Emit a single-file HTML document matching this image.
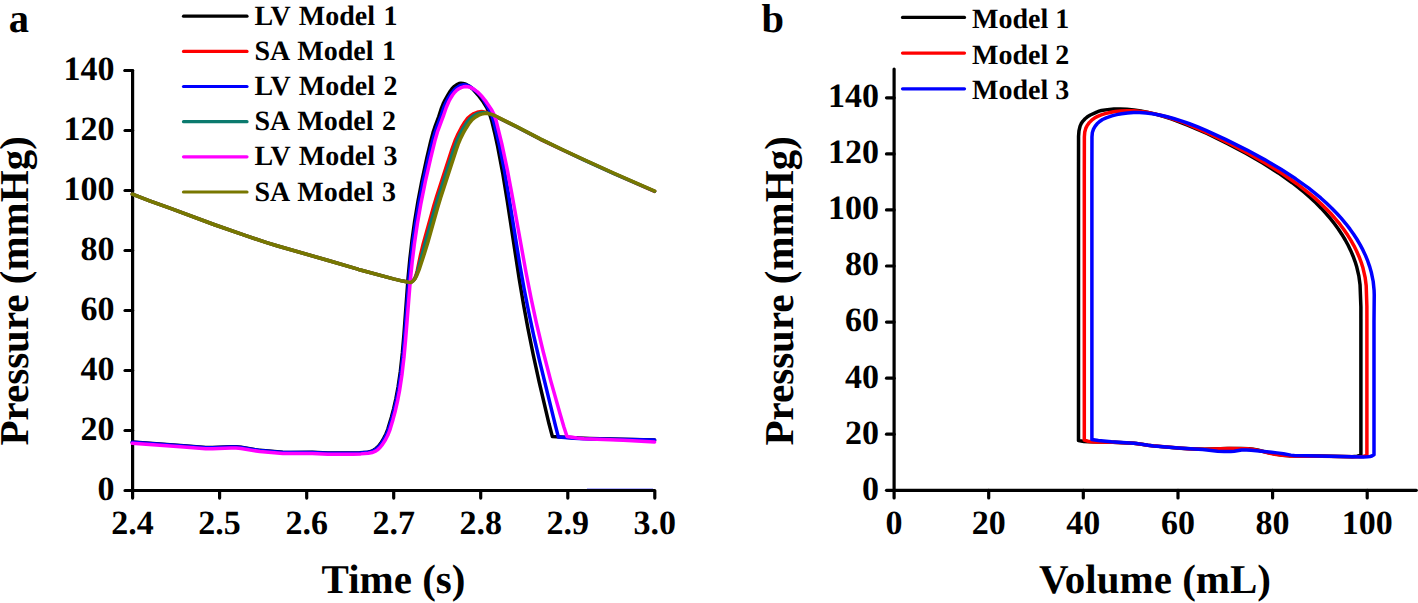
<!DOCTYPE html>
<html><head><meta charset="utf-8"><title>Pressure plots</title>
<style>html,body{margin:0;padding:0;background:#fff;width:1418px;height:603px;overflow:hidden}
svg{display:block}</style></head><body>
<svg width="1418" height="603" viewBox="0 0 1418 603">
<rect width="1418" height="603" fill="#fff"/>
<g stroke="#000" stroke-width="3.2" stroke-linecap="round" stroke-linejoin="round"><line x1="125.0" y1="430.5" x2="132.6" y2="430.5"/>
<line x1="125.0" y1="370.5" x2="132.6" y2="370.5"/>
<line x1="125.0" y1="310.5" x2="132.6" y2="310.5"/>
<line x1="125.0" y1="250.5" x2="132.6" y2="250.5"/>
<line x1="125.0" y1="190.5" x2="132.6" y2="190.5"/>
<line x1="125.0" y1="130.5" x2="132.6" y2="130.5"/>
<line x1="125.0" y1="70.5" x2="132.6" y2="70.5"/>
<line x1="219.6" y1="490.5" x2="219.6" y2="498.1"/>
<line x1="306.7" y1="490.5" x2="306.7" y2="498.1"/>
<line x1="393.7" y1="490.5" x2="393.7" y2="498.1"/>
<line x1="480.7" y1="490.5" x2="480.7" y2="498.1"/>
<line x1="567.8" y1="490.5" x2="567.8" y2="498.1"/>
<path d="M125.0,70.5 H132.6 V498.1" fill="none"/>
<path d="M125.0,490.5 H654.8 V498.1" fill="none"/></g>
<line x1="587" y1="488.6" x2="653" y2="488.6" stroke="#3030ff" stroke-width="1" opacity="0.4"/>
<g font-family="'Liberation Serif', serif" font-weight="bold" text-rendering="geometricPrecision" font-size="34" text-anchor="end" fill="#000">
<text x="114.5" y="499.8">0</text>
<text x="114.5" y="439.8">20</text>
<text x="114.5" y="379.8">40</text>
<text x="114.5" y="319.8">60</text>
<text x="114.5" y="259.8">80</text>
<text x="114.5" y="199.8">100</text>
<text x="114.5" y="139.8">120</text>
<text x="114.5" y="79.8">140</text>
</g><g font-family="'Liberation Serif', serif" font-weight="bold" text-rendering="geometricPrecision" font-size="34" text-anchor="middle" fill="#000">
<text x="132.6" y="533.6">2.4</text>
<text x="219.6" y="533.6">2.5</text>
<text x="306.7" y="533.6">2.6</text>
<text x="393.7" y="533.6">2.7</text>
<text x="480.7" y="533.6">2.8</text>
<text x="567.8" y="533.6">2.9</text>
<text x="654.8" y="533.6">3.0</text>
</g>
<path d="M132.30,442.10L183.71,445.71L205.65,447.50L212.65,447.54L231.14,446.68L236.14,446.78L241.11,447.35L259.88,450.36L282.82,452.19L290.82,452.42L312.33,452.37L327.82,453.08L352.84,453.01L359.84,452.74L367.81,452.16L370.72,451.53L373.43,450.31L375.88,448.62L378.42,446.23L380.88,443.09L383.74,438.40L385.98,433.92L387.79,429.27L391.40,417.29L393.69,408.58L395.98,398.33L398.08,387.01L400.39,371.17L402.41,352.77L403.96,334.32L408.10,277.94L409.88,259.01L411.92,241.11L414.66,221.29L418.02,201.05L421.89,180.90L426.74,158.41L430.71,141.35L433.03,132.65L434.74,127.42L438.76,116.63L441.48,108.05L443.16,103.88L445.16,99.85L448.11,94.62L450.21,91.22L452.00,88.82L454.45,86.34L456.85,84.58L459.08,83.58L460.99,83.27L462.94,83.40L464.85,83.90L466.67,84.67L468.81,85.94L471.19,87.76L473.41,89.78L478.07,94.99L483.16,101.80L487.08,108.19L489.71,114.13L491.91,121.30L495.04,134.44L497.69,146.67L502.90,174.19L507.27,200.86L519.22,279.00L523.47,304.17L527.90,328.28L533.22,354.77L539.09,381.65L548.95,423.54L552.40,436.60L578.55,438.12L589.63,438.58L654.60,440.10" fill="none" stroke="#000" stroke-width="3.5" stroke-linejoin="round" stroke-linecap="round"/>
<path d="M132.30,194.20L149.61,200.85L169.90,208.14L214.54,224.74L244.34,235.19L266.70,242.63L277.73,246.00L328.34,260.48L358.62,269.44L393.46,278.87L402.73,281.08L410.60,282.60L412.57,281.07L413.92,279.65L414.95,277.98L416.02,275.18L417.32,270.34L420.49,255.08L423.20,243.85L434.12,204.64L436.62,196.47L451.84,149.63L455.46,139.72L458.13,133.77L461.18,127.99L464.83,121.98L467.57,118.40L470.52,115.70L473.91,113.58L477.17,112.34L481.60,111.50L487.47,112.80L492.12,114.66L516.83,126.98L540.42,139.30L562.12,149.79L583.50,159.77L613.66,173.49L654.60,191.40" fill="none" stroke="#ff0000" stroke-width="3.5" stroke-linejoin="round" stroke-linecap="round"/>
<path d="M132.30,442.30L183.70,445.91L205.64,447.70L212.64,447.74L231.13,446.88L236.12,446.98L241.09,447.55L259.86,450.55L282.79,452.39L290.79,452.62L312.30,452.57L327.79,453.28L352.80,453.21L359.80,452.94L367.78,452.36L371.18,451.66L373.92,450.51L376.43,448.89L379.00,446.55L381.48,443.42L384.37,438.74L386.81,433.82L388.62,429.16L391.95,418.15L394.26,409.44L396.57,399.20L398.60,388.38L400.97,372.55L403.04,354.16L404.64,335.72L408.99,278.35L410.83,259.43L412.94,241.54L415.84,221.24L419.20,201.52L423.18,181.39L428.17,158.93L432.33,141.92L435.03,132.29L436.81,127.08L440.90,116.33L443.74,107.79L446.09,102.27L447.92,98.71L450.00,95.30L452.34,92.06L454.32,89.82L456.56,87.84L459.05,86.20L461.31,85.23L463.71,84.85L465.66,85.03L467.56,85.56L469.37,86.37L471.07,87.39L477.32,92.37L479.50,94.43L481.15,96.31L484.23,100.85L489.89,110.86L491.86,115.45L493.79,121.65L499.17,144.03L504.07,168.56L508.14,192.22L519.83,264.82L524.06,288.46L528.59,311.53L533.60,335.02L539.33,359.88L555.63,426.45L558.40,437.10L573.98,438.27L584.05,438.74L654.60,440.00" fill="none" stroke="#0000ff" stroke-width="3.5" stroke-linejoin="round" stroke-linecap="round"/>
<path d="M132.30,194.20L149.61,200.85L169.90,208.14L214.54,224.74L244.34,235.19L266.70,242.63L277.73,246.00L328.34,260.48L358.62,269.44L393.46,278.87L402.73,281.08L410.60,282.60L412.98,280.80L414.60,278.96L415.77,276.78L417.14,273.02L425.32,242.47L436.88,201.40L453.60,149.84L457.26,139.96L460.22,133.58L463.36,127.87L466.84,122.35L469.68,118.86L472.71,116.26L476.16,114.25L478.97,113.24L483.40,112.40L488.81,113.44L493.93,115.46L516.86,126.84L540.89,139.39L563.95,150.50L584.42,160.05L614.13,173.55L654.60,191.25" fill="none" stroke="#0b7a6e" stroke-width="3.5" stroke-linejoin="round" stroke-linecap="round"/>
<path d="M132.30,443.30L183.71,446.91L205.65,448.70L212.65,448.74L231.14,447.88L236.14,447.98L241.11,448.55L259.88,451.56L282.82,453.39L290.82,453.62L312.33,453.57L327.82,454.28L353.34,454.20L360.84,453.88L368.32,453.29L372.23,452.54L375.00,451.47L377.51,449.87L380.06,447.50L382.56,444.39L385.49,439.73L387.78,435.29L389.65,430.66L392.98,419.64L395.30,410.94L397.53,401.19L399.51,390.87L401.94,375.04L404.02,357.15L405.64,339.21L410.23,281.35L412.20,261.94L414.38,244.06L417.38,223.77L421.01,203.07L425.28,181.98L430.69,158.07L434.86,141.06L437.45,131.91L443.22,116.45L446.27,107.45L448.86,101.49L450.74,97.96L452.62,95.01L454.75,92.24L456.50,90.47L458.48,88.98L461.12,87.60L463.47,86.84L465.92,86.55L467.88,86.71L469.80,87.19L473.40,88.86L477.40,91.82L481.29,95.70L486.29,101.95L491.38,109.38L494.10,114.72L496.06,120.38L501.79,143.70L507.10,168.66L511.85,193.73L525.92,272.04L531.05,298.05L536.31,322.51L542.97,350.76L550.36,379.34L559.97,413.54L563.92,426.98L567.00,436.50L576.98,438.04L584.01,438.69L623.35,440.15L654.60,441.90" fill="none" stroke="#ff00ff" stroke-width="3.5" stroke-linejoin="round" stroke-linecap="round"/>
<path d="M132.30,194.20L149.61,200.85L169.90,208.14L214.54,224.74L244.34,235.19L266.70,242.63L277.73,246.00L328.34,260.48L358.62,269.44L393.46,278.87L402.73,281.08L410.60,282.60L413.42,280.55L415.34,278.31L416.94,275.20L419.13,269.59L423.72,255.77L427.90,242.34L437.69,207.52L440.57,197.89L456.13,150.13L458.14,144.45L460.25,139.34L463.10,133.46L466.08,128.23L469.36,123.17L472.22,119.70L475.28,117.12L478.75,115.14L481.57,114.14L486.00,113.30L490.94,114.13L495.13,115.75L517.16,126.75L540.77,139.08L563.40,149.99L584.35,159.76L614.08,173.28L654.60,191.00" fill="none" stroke="#787700" stroke-width="3.5" stroke-linejoin="round" stroke-linecap="round"/>
<line x1="183.5" y1="16.2" x2="247" y2="16.2" stroke="#000" stroke-width="3.2" stroke-linecap="round"/>
<text x="254.5" y="25.0" font-family="'Liberation Serif', serif" font-weight="bold" text-rendering="geometricPrecision" font-size="28" word-spacing="1.5" fill="#000">LV Model 1</text>
<line x1="183.5" y1="51.4" x2="247" y2="51.4" stroke="#ff0000" stroke-width="3.2" stroke-linecap="round"/>
<text x="254.5" y="60.1" font-family="'Liberation Serif', serif" font-weight="bold" text-rendering="geometricPrecision" font-size="28" word-spacing="1.5" fill="#000">SA Model 1</text>
<line x1="183.5" y1="86.5" x2="247" y2="86.5" stroke="#0000ff" stroke-width="3.2" stroke-linecap="round"/>
<text x="254.5" y="95.2" font-family="'Liberation Serif', serif" font-weight="bold" text-rendering="geometricPrecision" font-size="28" word-spacing="1.5" fill="#000">LV Model 2</text>
<line x1="183.5" y1="121.7" x2="247" y2="121.7" stroke="#0b7a6e" stroke-width="3.2" stroke-linecap="round"/>
<text x="254.5" y="130.3" font-family="'Liberation Serif', serif" font-weight="bold" text-rendering="geometricPrecision" font-size="28" word-spacing="1.5" fill="#000">SA Model 2</text>
<line x1="183.5" y1="156.8" x2="247" y2="156.8" stroke="#ff00ff" stroke-width="3.2" stroke-linecap="round"/>
<text x="254.5" y="165.4" font-family="'Liberation Serif', serif" font-weight="bold" text-rendering="geometricPrecision" font-size="28" word-spacing="1.5" fill="#000">LV Model 3</text>
<line x1="183.5" y1="192.0" x2="247" y2="192.0" stroke="#787700" stroke-width="3.2" stroke-linecap="round"/>
<text x="254.5" y="200.5" font-family="'Liberation Serif', serif" font-weight="bold" text-rendering="geometricPrecision" font-size="28" word-spacing="1.5" fill="#000">SA Model 3</text>
<g stroke="#000" stroke-width="3.2" stroke-linecap="round" stroke-linejoin="round"><line x1="886.5" y1="434.2" x2="894.1" y2="434.2"/>
<line x1="886.5" y1="378.2" x2="894.1" y2="378.2"/>
<line x1="886.5" y1="322.1" x2="894.1" y2="322.1"/>
<line x1="886.5" y1="266.0" x2="894.1" y2="266.0"/>
<line x1="886.5" y1="209.9" x2="894.1" y2="209.9"/>
<line x1="886.5" y1="153.9" x2="894.1" y2="153.9"/>
<line x1="886.5" y1="97.8" x2="894.1" y2="97.8"/>
<line x1="894.1" y1="490.3" x2="894.1" y2="497.9"/>
<line x1="988.7" y1="490.3" x2="988.7" y2="497.9"/>
<line x1="1083.3" y1="490.3" x2="1083.3" y2="497.9"/>
<line x1="1178.0" y1="490.3" x2="1178.0" y2="497.9"/>
<line x1="1272.6" y1="490.3" x2="1272.6" y2="497.9"/>
<line x1="1367.2" y1="490.3" x2="1367.2" y2="497.9"/>
<line x1="894.1" y1="69" x2="894.1" y2="490.3"/>
<line x1="886.5" y1="490.3" x2="1416.3" y2="490.3"/></g>
<g font-family="'Liberation Serif', serif" font-weight="bold" text-rendering="geometricPrecision" font-size="34" text-anchor="end" fill="#000">
<text x="879" y="499.6">0</text>
<text x="879" y="443.5">20</text>
<text x="879" y="387.5">40</text>
<text x="879" y="331.4">60</text>
<text x="879" y="275.3">80</text>
<text x="879" y="219.2">100</text>
<text x="879" y="163.2">120</text>
<text x="879" y="107.1">140</text>
</g><g font-family="'Liberation Serif', serif" font-weight="bold" text-rendering="geometricPrecision" font-size="34" text-anchor="middle" fill="#000">
<text x="894.1" y="533.6">0</text>
<text x="988.7" y="533.6">20</text>
<text x="1083.3" y="533.6">40</text>
<text x="1178.0" y="533.6">60</text>
<text x="1272.6" y="533.6">80</text>
<text x="1367.2" y="533.6">100</text>
</g>
<path d="M1078.50,440.50L1078.50,175.00L1078.55,136.45L1078.96,130.97L1080.09,126.11L1081.09,123.83L1082.74,121.33L1085.09,118.74L1087.39,116.83L1090.39,115.04L1096.73,112.07L1099.05,111.14L1101.46,110.48L1107.40,109.62L1113.88,109.09L1120.39,108.96L1126.89,109.22L1133.87,109.89L1140.80,110.91L1148.17,112.36L1155.47,114.12L1163.17,116.31L1171.26,118.94L1179.74,122.00L1188.13,125.30L1206.93,133.51L1227.64,143.59L1246.21,153.44L1263.11,163.22L1278.32,172.90L1292.20,182.74L1298.53,187.64L1304.72,192.73L1310.36,197.69L1315.84,202.83L1321.13,208.15L1325.88,213.31L1330.43,218.63L1334.47,223.74L1338.30,229.00L1341.90,234.42L1345.26,239.99L1348.13,245.27L1350.74,250.68L1353.10,256.20L1355.16,261.84L1356.78,267.11L1358.83,275.88L1360.04,284.80L1360.89,306.81L1360.90,318.82L1360.90,455.00L1359.08,455.77L1357.17,456.28L1352.20,456.63L1319.60,456.10L1301.55,456.02L1289.51,455.70L1283.02,455.18L1275.57,454.13L1269.17,452.88L1257.51,449.94L1253.05,449.21L1248.56,448.76L1241.55,448.53L1227.50,448.50L1204.45,449.19L1190.41,448.79L1179.90,448.14L1152.91,445.88L1147.93,445.30L1140.03,443.94L1134.04,443.35L1112.50,442.33L1088.93,441.82L1083.94,441.42L1078.50,440.50" fill="none" stroke="#000" stroke-width="3.5" stroke-linejoin="round" stroke-linecap="round"/>
<path d="M1084.30,440.10L1084.30,175.00L1084.37,136.95L1084.77,131.96L1085.84,128.12L1087.18,125.45L1089.25,122.64L1091.71,120.16L1094.51,118.06L1097.58,116.38L1101.28,114.85L1105.10,113.67L1109.96,112.49L1115.39,111.54L1121.36,110.91L1127.36,110.68L1133.87,110.85L1140.36,111.40L1146.80,112.30L1153.69,113.61L1160.51,115.24L1167.73,117.28L1175.35,119.75L1182.89,122.47L1191.27,125.79L1209.60,133.86L1230.29,143.97L1249.77,154.26L1267.59,164.45L1282.88,174.01L1296.87,183.70L1309.52,193.53L1315.23,198.41L1320.79,203.46L1326.16,208.71L1330.99,213.78L1335.63,219.04L1340.06,224.47L1343.96,229.69L1347.63,235.06L1351.06,240.59L1353.99,245.84L1356.67,251.21L1359.07,256.72L1361.19,262.34L1362.99,268.07L1365.12,277.34L1366.20,285.78L1366.88,306.29L1366.90,318.81L1366.90,455.20L1365.08,455.97L1363.18,456.48L1360.70,456.76L1357.20,456.86L1321.11,456.32L1302.06,456.23L1289.03,455.88L1282.04,455.26L1274.60,454.16L1268.71,452.97L1257.54,450.13L1253.10,449.36L1248.61,448.87L1242.60,448.64L1229.57,448.59L1204.01,449.19L1187.98,448.66L1178.98,448.07L1152.50,445.84L1147.53,445.24L1139.62,443.89L1133.64,443.32L1113.11,442.35L1093.56,441.99L1088.11,441.26L1084.30,440.10" fill="none" stroke="#ff0000" stroke-width="3.5" stroke-linejoin="round" stroke-linecap="round"/>
<path d="M1091.90,439.60L1091.90,175.00L1091.97,136.95L1092.36,132.47L1093.48,129.18L1095.22,126.15L1097.07,123.80L1099.62,121.42L1102.53,119.48L1106.18,117.85L1111.86,115.92L1116.70,114.63L1121.61,113.66L1127.57,112.89L1133.57,112.54L1139.57,112.57L1146.07,113.00L1152.53,113.78L1159.43,114.99L1166.27,116.52L1173.52,118.47L1181.17,120.85L1188.73,123.50L1197.15,126.73L1205.93,130.38L1225.53,139.31L1246.57,149.83L1264.62,159.61L1281.02,169.27L1295.71,178.82L1308.70,188.20L1320.75,197.98L1326.35,202.99L1331.78,208.18L1336.67,213.20L1341.38,218.39L1345.88,223.76L1349.86,228.91L1353.62,234.22L1356.89,239.26L1360.19,244.87L1362.99,250.19L1365.54,255.63L1367.80,261.20L1369.76,266.87L1371.28,272.17L1373.20,281.48L1374.10,290.44L1374.24,294.95L1374.00,321.98L1374.00,454.80L1371.89,456.00L1370.02,456.55L1367.55,456.84L1363.55,456.96L1294.36,455.46L1290.87,455.12L1283.48,453.75L1277.03,452.87L1251.09,450.14L1246.59,449.97L1241.58,450.10L1234.18,451.24L1230.68,451.47L1224.17,451.52L1217.65,451.27L1202.72,449.51L1181.70,448.16L1153.70,445.96L1148.22,445.34L1137.34,443.62L1111.32,441.86L1098.35,440.52L1091.90,439.60" fill="none" stroke="#0000ff" stroke-width="3.5" stroke-linejoin="round" stroke-linecap="round"/>
<line x1="902.5" y1="17.4" x2="964.5" y2="17.4" stroke="#000" stroke-width="3.2" stroke-linecap="round"/>
<text x="972" y="27.8" font-family="'Liberation Serif', serif" font-weight="bold" text-rendering="geometricPrecision" font-size="28" fill="#000">Model 1</text>
<line x1="902.5" y1="53.1" x2="964.5" y2="53.1" stroke="#ff0000" stroke-width="3.2" stroke-linecap="round"/>
<text x="972" y="63.5" font-family="'Liberation Serif', serif" font-weight="bold" text-rendering="geometricPrecision" font-size="28" fill="#000">Model 2</text>
<line x1="902.5" y1="88.8" x2="964.5" y2="88.8" stroke="#0000ff" stroke-width="3.2" stroke-linecap="round"/>
<text x="972" y="99.2" font-family="'Liberation Serif', serif" font-weight="bold" text-rendering="geometricPrecision" font-size="28" fill="#000">Model 3</text>
<text x="393.5" y="592.6" font-family="'Liberation Serif', serif" font-weight="bold" text-rendering="geometricPrecision" font-size="41" text-anchor="middle" fill="#000">Time (s)</text>
<text x="1155" y="592.9" font-family="'Liberation Serif', serif" font-weight="bold" text-rendering="geometricPrecision" font-size="41" text-anchor="middle" fill="#000">Volume (mL)</text>
<text transform="translate(28.3,445.5) rotate(-90)" font-family="'Liberation Serif', serif" font-weight="bold" text-rendering="geometricPrecision" font-size="41" fill="#000">Pressure (mmHg)</text>
<text transform="translate(792.6,445.5) rotate(-90)" font-family="'Liberation Serif', serif" font-weight="bold" text-rendering="geometricPrecision" font-size="41" fill="#000">Pressure (mmHg)</text>
<text x="8.8" y="32" font-family="'Liberation Serif', serif" font-weight="bold" text-rendering="geometricPrecision" font-size="40.5" fill="#000">a</text>
<text x="761.5" y="32.2" font-family="'Liberation Serif', serif" font-weight="bold" text-rendering="geometricPrecision" font-size="40.5" fill="#000">b</text>
</svg></body></html>
